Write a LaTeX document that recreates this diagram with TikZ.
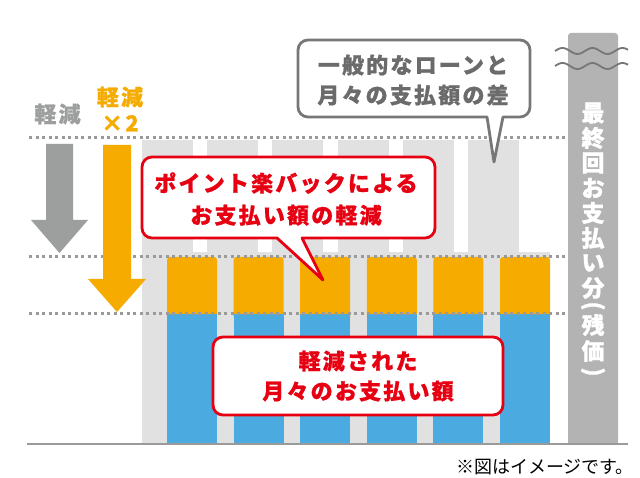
\documentclass[tikz,border=0pt]{standalone}
\usepackage{fontspec}
\setmainfont{Noto Sans CJK JP}
\newfontfamily\jpb{Noto Sans CJK JP}[LetterSpace=10, BoldFeatures={FakeBold=0.8}]
\newfontfamily\jpv{Noto Sans CJK JP}[BoldFeatures={FakeBold=0.8}]
\definecolor{lgray}{HTML}{E1E1E1}
\definecolor{orng}{HTML}{F6AB00}
\definecolor{blu}{HTML}{4BAADF}
\definecolor{colgray}{HTML}{B3B3B3}
\definecolor{dotgray}{HTML}{9A9A9A}
\definecolor{arrgray}{HTML}{9D9E9E}
\definecolor{redc}{HTML}{E60012}
\definecolor{callgray}{HTML}{777777}
\definecolor{calltext}{HTML}{6B6B6B}
\tikzset{
  dotline/.style={line width=3pt, dotgray, dash pattern=on 3pt off 3.5pt},
  wave/.style={line width=1.8pt, color=callgray},
  bigtxt/.style={font=\jpb\bfseries\fontsize{22}{30}\selectfont, align=center, inner sep=0pt},
  vchar/.style={text=white, font=\jpv\bfseries\fontsize{23}{23}\selectfont, inner sep=0pt},
}
\begin{document}
\begin{tikzpicture}[x=1pt,y=-1pt]
\useasboundingbox (0,0) rectangle (640,478);
\fill[white] (0,0) rectangle (640,478);
% light gray background columns
\foreach \i in {0,...,5} \fill[lgray] ({142+65.2*\i},140) rectangle ++(51,115);
\fill[lgray] (142,252) rectangle (550,443);
% bars
\foreach \i in {0,...,5} {
  \fill[orng, rounded corners=3pt] ({167+66.6*\i},257) rectangle ++(50,63);
  \fill[blu] ({167+66.6*\i},314) rectangle ++(50,129);
}
% right column
\fill[colgray, rounded corners=3pt] (568,33) rectangle (618,443);
\fill[colgray] (568,420) rectangle (618,443);
\draw[wave, domain=555:628, samples=80, smooth] plot (\x, {51-3*sin((\x-555)*12)});
\draw[wave, domain=555:628, samples=80, smooth] plot (\x, {66-3*sin((\x-555)*12)});
\foreach \c/\y/\n in {最/113/1,終/138/2,回/163/3,お/188/4,支/213/5,払/238/6,い/263/7,分/288/8,残/325/9,価/351/10}
  \node[vchar] (v\n) at (593,\y) {\c};
\node[vchar, rotate=-90] (vp1) at (593,306) {(};
\node[vchar, rotate=-90] (vp2) at (593,372) {)};
% dotted lines
\foreach \y in {138,257,314} \draw[dotline] (29,\y) -- (567,\y);
% baseline
\draw[line width=2.5pt, dotgray] (27,444) -- (628,444);
% arrows
\fill[arrgray] (46,144) -- (73,144) -- (73,220) -- (88,220) -- (59.5,253) -- (31,220) -- (46,220) -- cycle;
\fill[orng] (103,145) -- (131,145) -- (131,279) -- (146,279) -- (117,312) -- (88,279) -- (103,279) -- cycle;
\node[bigtxt, text=arrgray] (lab1) at (57.5,114) {軽減};
\node[bigtxt, text=orng, font=\jpb\bfseries\fontsize{22}{26}\selectfont] (lab2) at (120,109) {軽減\\×2};
% callout 1
\filldraw[fill=white, draw=callgray, line width=2.8pt, line join=round]
  (494,162) -- (487,117) [rounded corners=10pt] -- (298,117) -- (298,40) -- (530,40) -- (530,117) [sharp corners] -- (503,117) -- cycle;
\node[bigtxt, text=calltext] (c1) at (413,80) {一般的なローンと\\月々の支払額の差};
% callout 2
\filldraw[fill=white, draw=redc, line width=2.8pt, line join=round]
  (323,280) -- (277,238) [rounded corners=10pt] -- (142,238) -- (142,157) -- (435,157) -- (435,238) [sharp corners] -- (302,238) -- cycle;
\node[bigtxt, text=redc, font=\jpb\bfseries\fontsize{22}{32}\selectfont] (c2) at (286,199) {ポイント楽バックによる\\お支払い額の軽減};
% callout 3
\node[bigtxt, text=redc, draw=redc, fill=white, line width=2.8pt, rounded corners=10pt,
  minimum width=290pt, minimum height=78pt] (c3) at (358,376) {軽減された\\月々のお支払い額};
% footnote
\node[font=\fontsize{18}{20}\selectfont, inner sep=0pt, text=black] (fn) at (545,467) {※図はイメージです。};
\end{tikzpicture}
\end{document}
